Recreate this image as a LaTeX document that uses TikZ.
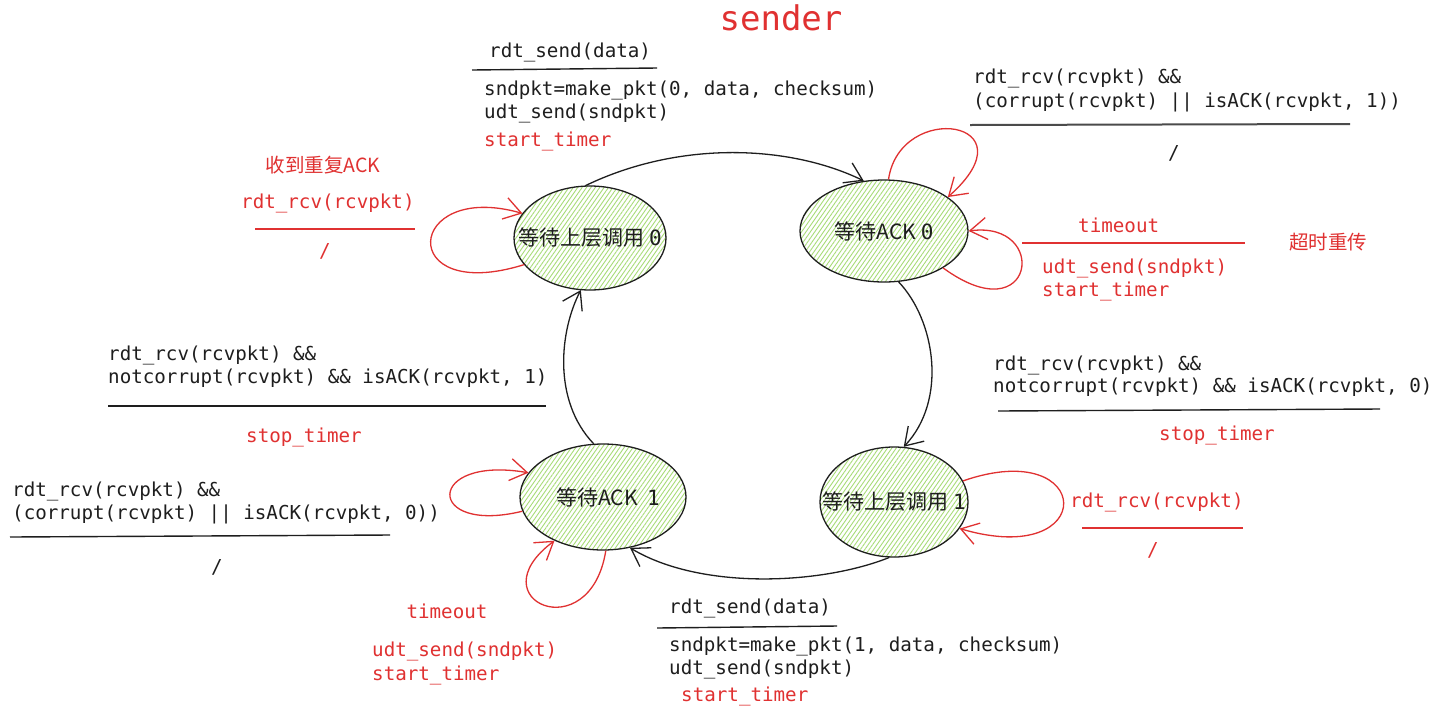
\documentclass[tikz,border=0pt]{standalone}
\usepackage{fontspec}
\setmonofont{DejaVu Sans Mono}
\newfontfamily\cjk{Noto Sans CJK SC}
\usetikzlibrary{arrows.meta,shapes.geometric,patterns.meta}
\definecolor{exred}{HTML}{E03131}
\definecolor{exblack}{HTML}{1E1E1E}
\definecolor{hatchgreen}{HTML}{A8DC78}
\begin{document}
\begin{tikzpicture}[x=1pt,y=-1pt,
  mono/.style={font=\ttfamily\fontsize{19.2}{23.5}\selectfont, inner sep=0pt, anchor=base west, text=exblack},
  redtxt/.style={mono, text=exred},
  cjktxt/.style={font=\cjk\fontsize{19.5}{22}\selectfont, inner sep=0pt, text=exred},
  state/.style={ellipse, draw=exblack, line width=1.3pt, inner sep=0pt,
     pattern={Lines[angle=55,distance=3.6pt,line width=0.9pt]}, pattern color=hatchgreen},
  statetxt/.style={font=\cjk\fontsize{21}{24}\selectfont, text=exblack, inner sep=0pt},
  rule/.style={draw=exblack, line width=1.4pt},
  redrule/.style={draw=exred, line width=1.4pt},
  arr/.style={draw=exblack, line width=1.3pt, -{Straight Barb[length=17pt,width=22pt,line width=1.3pt]}},
  redarr/.style={draw=exred, line width=1.3pt, -{Straight Barb[length=17pt,width=22pt,line width=1.3pt]}}
]
\useasboundingbox (0,0) rectangle (1448,705);
\fill[white] (0,0) rectangle (1448,705);

% title
\node[font=\ttfamily\fontsize{34}{40}\selectfont, text=exred, inner sep=0pt] (title) at (781,18) {sender};

% states
\node[state, minimum width=152pt, minimum height=104pt] (S0) at (590,238) {};
\node[statetxt] (S0t) at (S0.center) {等待上层调用 {\ttfamily 0}};
\node[state, minimum width=168pt, minimum height=102pt] (A0) at (884,231) {};
\node[statetxt] (A0t) at (A0.center) {等待ACK {\ttfamily 0}};
\node[state, minimum width=148pt, minimum height=110pt] (S1) at (894,502) {};
\node[statetxt] (S1t) at (S1.center) {等待上层调用 {\ttfamily 1}};
\node[state, minimum width=166pt, minimum height=106pt] (A1) at (603,497) {};
\node[statetxt] (A1t) at ([xshift=5pt]A1.center) {等待ACK\ \ {\ttfamily 1}};

% main transitions
\draw[arr] (S0.95) .. controls (680,140) and (790,145) .. (A0.112);
\draw[arr] (A0.-74) .. controls (935,320) and (948,400) .. (S1.80);
\draw[arr] (S1.-95) .. controls (820,585) and (700,590) .. (A1.-62);
\draw[arr] (A1.100) .. controls (552,400) and (560,330) .. (S0.-100);

% self loops
\draw[redarr] (S0.202) .. controls (395,305) and (405,180) .. (S0.160);
\draw[redarr] (A0.85) .. controls (900,100) and (1035,120) .. (A0.28);
\draw[redarr] (A0.-32) .. controls (1035,335) and (1050,220) .. (A0.0);
\draw[redarr] (S1.17) .. controls (1095,435) and (1100,570) .. (S1.-22);
\draw[redarr] (A1.190) .. controls (425,535) and (425,455) .. (A1.162);
\draw[redarr] (A1.-87) .. controls (590,650) and (475,600) .. (A1.-138);

% block 1 (top middle)
\node[mono] (b1a) at (489,57.5) {rdt\_send(data)};
\draw[rule] (472,70) -- (657,68);
\node[mono] (b1b) at (484,95.5) {sndpkt=make\_pkt(0, data, checksum)};
\node[mono] (b1c) at (484,118.5) {udt\_send(sndpkt)};
\node[redtxt] (b1d) at (484,146.5) {start\_timer};

% block 2 (top right)
\node[mono] (b2a) at (973,83.5) {rdt\_rcv(rcvpkt) \&\&};
\node[mono] (b2b) at (973,107.5) {(corrupt(rcvpkt) || isACK(rcvpkt, 1))};
\draw[rule, draw=exblack!80, line width=2pt] (970,125) -- (1350,124);
\node[mono, anchor=center] (b2c) at (1174,153) {/};

% block 3 (left top, red)
\node[cjktxt] (b3a) at (323,165) {收到重复ACK};
\node[redtxt] (b3b) at (241,208.5) {rdt\_rcv(rcvpkt)};
\draw[redrule] (255,229) -- (415,229);
\node[redtxt, anchor=center] (b3c) at (325,251) {/};

% block 4 (right, timeout)
\node[redtxt] (b4a) at (1078,232.5) {timeout};
\draw[redrule, line width=2pt] (1022,243) -- (1245,243);
\node[cjktxt] (b4b) at (1328,242) {超时重传};
\node[redtxt] (b4c) at (1042,273.5) {udt\_send(sndpkt)};
\node[redtxt] (b4d) at (1042,296.5) {start\_timer};

% block 5 (left middle)
\node[mono] (b5a) at (108,360.5) {rdt\_rcv(rcvpkt) \&\&};
\node[mono] (b5b) at (108,383.5) {notcorrupt(rcvpkt) \&\& isACK(rcvpkt, 1)};
\draw[rule] (108,406) -- (546,406);
\node[redtxt, anchor=center] (b5c) at (304,437) {stop\_timer};

% block 6 (right middle)
\node[mono] (b6a) at (993,370.5) {rdt\_rcv(rcvpkt) \&\&};
\node[mono] (b6b) at (993,392.5) {notcorrupt(rcvpkt) \&\& isACK(rcvpkt, 0)};
\draw[rule] (998,411) -- (1380,409);
\node[redtxt, anchor=center] (b6c) at (1217,435) {stop\_timer};

% block 7 (left bottom)
\node[mono] (b7a) at (12,496.5) {rdt\_rcv(rcvpkt) \&\&};
\node[mono] (b7b) at (12,519.5) {(corrupt(rcvpkt) || isACK(rcvpkt, 0))};
\draw[rule] (10,537) -- (390,535);
\node[mono, anchor=center] (b7c) at (217,567) {/};

% block 8 (right bottom, red)
\node[redtxt] (b8a) at (1070,507.5) {rdt\_rcv(rcvpkt)};
\draw[redrule] (1082,528) -- (1243,528);
\node[redtxt, anchor=center] (b8b) at (1153,550) {/};

% block 9 (bottom left, timeout)
\node[redtxt, anchor=center] (b9a) at (447,611) {timeout};
\node[redtxt] (b9b) at (372,656.5) {udt\_send(sndpkt)};
\node[redtxt] (b9c) at (372,680.5) {start\_timer};

% block 10 (bottom middle)
\node[mono] (b10a) at (669,613.5) {rdt\_send(data)};
\draw[rule] (657,628) -- (837,626);
\node[mono] (b10b) at (669,651.5) {sndpkt=make\_pkt(1, data, checksum)};
\node[mono] (b10c) at (669,674.5) {udt\_send(sndpkt)};
\node[redtxt] (b10d) at (681,701) {start\_timer};
\end{tikzpicture}
\end{document}
